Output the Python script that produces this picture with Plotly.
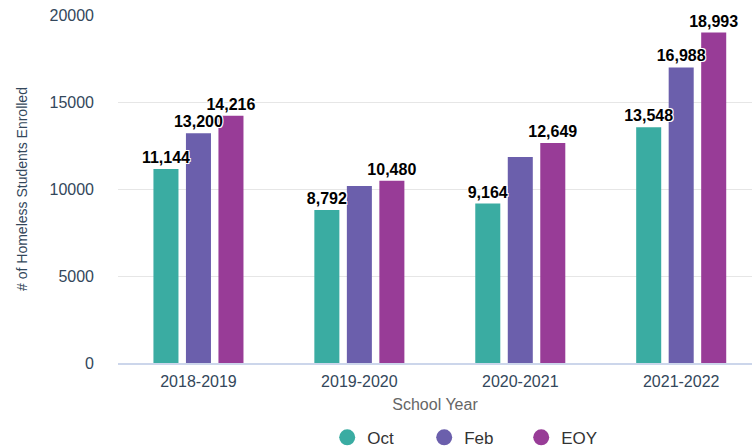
import plotly.graph_objects as go

years = ["2018-2019", "2019-2020", "2020-2021", "2021-2022"]
oct_vals = [11144, 8792, 9164, 13548]
feb_vals = [13200, 10170, 11840, 16988]
eoy_vals = [14216, 10480, 12649, 18993]
feb_labels = ["13,200", "", "", "16,988"]

series = [
    ("Oct", oct_vals, "#3aaca2", [f"{v:,}" for v in oct_vals]),
    ("Feb", feb_vals, "#6b5fac", feb_labels),
    ("EOY", eoy_vals, "#983c97", [f"{v:,}" for v in eoy_vals]),
]

FONT = "Liberation Sans, Arial, sans-serif"
fig = go.Figure()
# visible bars
for name, vals, color, labels in series:
    fig.add_trace(go.Bar(
        x=years, y=vals, name=name, offsetgroup=name, marker_color=color, marker_line_width=0,
        showlegend=False, hoverinfo="skip",
    ))
# transparent overlay bars carrying the labels so text sits above every bar
for name, vals, color, labels in series:
    fig.add_trace(go.Bar(
        x=years, y=vals, name=name, offsetgroup=name, marker_color="rgba(0,0,0,0)", marker_line_width=0,
        text=labels, textposition="outside", cliponaxis=False, constraintext="none",
        textfont=dict(family=FONT, size=16, color="#000000", weight="bold",
                      shadow="1px 1px 0 #fff, -1px -1px 0 #fff, 1px -1px 0 #fff, -1px 1px 0 #fff"),
        showlegend=False, hoverinfo="skip",
    ))
for name, vals, color, labels in series:
    fig.add_trace(go.Scatter(
        x=[None], y=[None], mode="markers", name=name,
        marker=dict(symbol="circle", size=17, color=color), showlegend=True,
    ))

fig.update_layout(
    width=752, height=447,
    margin=dict(l=118, r=0, t=15, b=84, autoexpand=False),
    paper_bgcolor="white", plot_bgcolor="white",
    barmode="group", bargap=0.394, bargroupgap=0.23,
    font=dict(family=FONT, color="#333333"),
    legend=dict(orientation="h", x=0.33, xanchor="left", y=-0.215, yanchor="middle",
                font=dict(size=17, color="#333333"), entrywidth=52, entrywidthmode="pixels",
                tracegroupgap=0),
    xaxis=dict(
        range=[-0.5, 3.44], showgrid=False, showline=True, linecolor="#ccd6eb", linewidth=2,
        ticks="", tickfont=dict(size=16, color="#33475b"), ticklabelstandoff=3,
        title=dict(text="School Year", font=dict(size=16, color="#666666"), standoff=10),
    ),
    yaxis=dict(
        range=[0, 20000], tickvals=[0, 5000, 10000, 15000, 20000], tickformat="d",
        showgrid=True, gridcolor="#e6e6e6", gridwidth=1, zeroline=False,
        tickfont=dict(size=16, color="#33475b"), ticklabelstandoff=23,
        title=dict(text="# of Homeless Students Enrolled", font=dict(size=14, color="#33475b"), standoff=18),
    ),
)

fig.write_html("out.html", config={"displayModeBar": False},
               post_script="document.body.style.margin='0';document.body.style.overflow='hidden';")
